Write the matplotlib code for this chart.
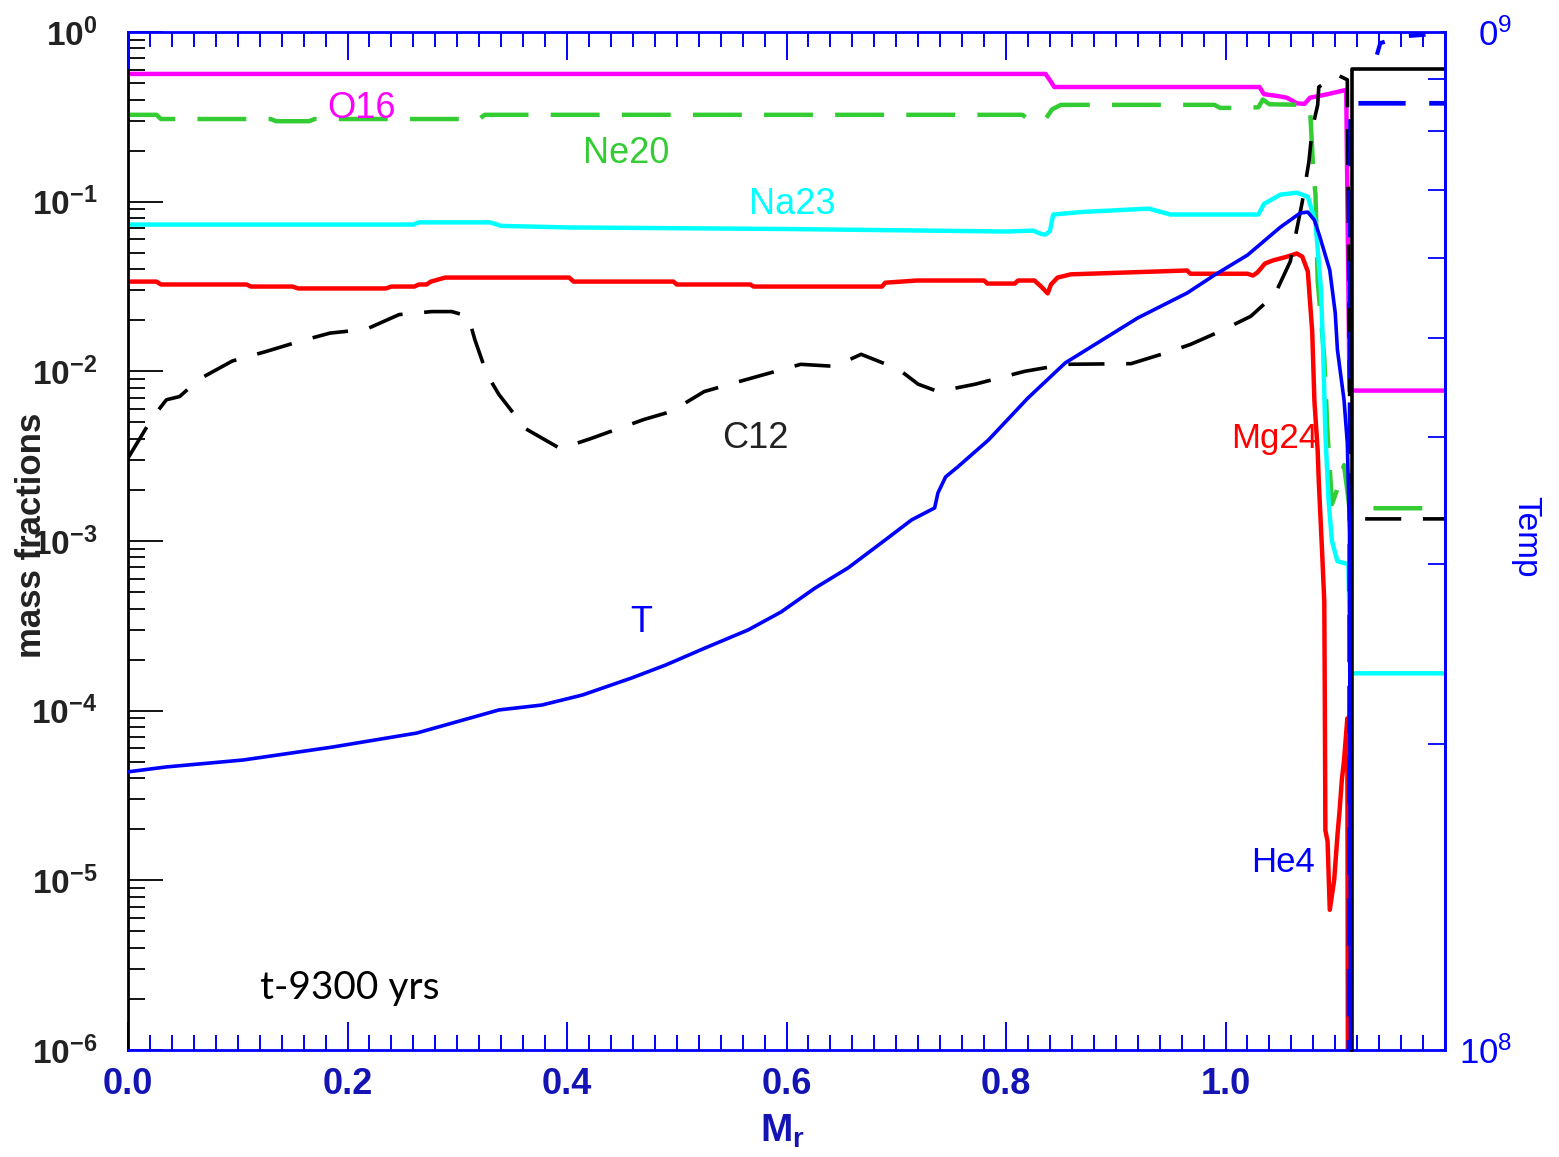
import matplotlib
matplotlib.use("Agg")
import matplotlib.pyplot as plt
from matplotlib.ticker import MultipleLocator, LogLocator, NullFormatter, FixedLocator

plt.rcParams['font.family'] = ['Liberation Sans', 'DejaVu Sans']
plt.rcParams['mathtext.default'] = 'regular'
plt.rcParams['axes.unicode_minus'] = False

# mass coordinate (Msun) and abundance profiles
o16_x = [0.0, 0.836, 0.840, 0.844, 1.031, 1.035, 1.047, 1.056, 1.065, 1.072, 1.077, 1.093, 1.110, 1.113, 1.2]
o16 = [0.566, 0.566, 0.52, 0.474, 0.474, 0.43, 0.42, 0.41, 0.38, 0.377, 0.41, 0.43, 0.456, 7.7e-3, 7.7e-3]

ne20_x = [0.0, 0.026, 0.03, 0.13, 0.135, 0.165, 0.17, 0.32, 0.325, 0.815, 0.82, 0.836, 0.842, 0.85,
          0.99, 0.995, 1.015, 1.03, 1.034, 1.04, 1.072, 1.077, 1.080, 1.082, 1.084, 1.090, 1.093,
          1.095, 1.097, 1.104, 1.108, 1.113, 1.2]
ne20 = [0.325, 0.325, 0.307, 0.307, 0.298, 0.298, 0.307, 0.307, 0.325, 0.325, 0.307, 0.307, 0.35, 0.372,
        0.372, 0.357, 0.357, 0.36, 0.40, 0.375, 0.372, 0.36, 0.15, 0.11, 0.034, 0.012, 4.3e-3,
        2.7e-3, 1.65e-3, 2.2e-3, 2.8e-3, 1.56e-3, 1.56e-3]

na23_x = [0.0, 0.26, 0.265, 0.33, 0.34, 0.40, 0.60, 0.80, 0.825, 0.832, 0.836, 0.84, 0.843, 0.87, 0.93,
          0.95, 1.03, 1.035, 1.05, 1.065, 1.075, 1.082, 1.085, 1.087, 1.089, 1.091, 1.094, 1.097,
          1.102, 1.112, 1.114, 1.2]
na23 = [0.0733, 0.0733, 0.0755, 0.0755, 0.072, 0.0705, 0.069, 0.0667, 0.0675, 0.0645, 0.064, 0.067, 0.084,
        0.087, 0.091, 0.084, 0.084, 0.097, 0.11, 0.113, 0.107, 0.0755, 0.044, 0.03, 0.013, 4.3e-3,
        1.7e-3, 1.0e-3, 7.6e-4, 7.3e-4, 1.66e-4, 1.66e-4]

mg24_x = [0.0, 0.026, 0.03, 0.108, 0.112, 0.15, 0.155, 0.235, 0.24, 0.261, 0.265, 0.272, 0.276, 0.289,
          0.402, 0.406, 0.497, 0.50, 0.567, 0.57, 0.687, 0.69, 0.719, 0.78, 0.783, 0.808, 0.811, 0.826,
          0.832, 0.838, 0.841, 0.847, 0.859, 0.965, 0.968, 1.02, 1.025, 1.029, 1.036, 1.043, 1.056,
          1.065, 1.07, 1.075, 1.077, 1.079, 1.081, 1.084, 1.085, 1.088, 1.09, 1.0905, 1.091, 1.093,
          1.095, 1.099, 1.102, 1.104, 1.106, 1.108, 1.111, 1.112]
mg24 = [0.0338, 0.0338, 0.0325, 0.0325, 0.0316, 0.0316, 0.0308, 0.0308, 0.0316, 0.0316, 0.0325, 0.0325,
        0.0338, 0.0357, 0.0357, 0.0338, 0.0338, 0.0325, 0.0325, 0.0316, 0.0316, 0.0333, 0.0343, 0.0343,
        0.0329, 0.0329, 0.0343, 0.0343, 0.0316, 0.0288, 0.0325, 0.0357, 0.0373, 0.0393, 0.0376, 0.0376,
        0.0367, 0.0382, 0.0432, 0.045, 0.0474, 0.0495, 0.0474, 0.0388, 0.0258, 0.0172, 6.7e-3, 3.4e-3,
        2.24e-3, 8.7e-4, 4.4e-4, 1.15e-4, 1.97e-5, 1.7e-5, 6.7e-6, 1e-5, 1.84e-5, 2.6e-5, 3.9e-5,
        5.1e-5, 9e-5, 1e-8]

c12_x = [0.0, 0.022, 0.035, 0.047, 0.065, 0.095, 0.126, 0.156, 0.184, 0.217, 0.247, 0.277, 0.295, 0.31,
         0.316, 0.327, 0.338, 0.362, 0.394, 0.421, 0.47, 0.495, 0.525, 0.554, 0.613, 0.644, 0.668, 0.702,
         0.72, 0.738, 0.772, 0.817, 0.854, 0.914, 0.945, 0.968, 0.995, 1.023, 1.045, 1.059, 1.065, 1.07,
         1.076, 1.079, 1.084, 1.085, 1.102, 1.111, 1.114, 1.2]
c12 = [3.08e-3, 5.3e-3, 6.8e-3, 7.1e-3, 9.0e-3, 0.0115, 0.0131, 0.015, 0.0168, 0.0177, 0.0216, 0.0225,
       0.0225, 0.0211, 0.0154, 0.0096, 0.0073, 0.0046, 0.0035, 0.004, 0.0052, 0.0058, 0.0076, 0.0086,
       0.011, 0.0107, 0.0126, 0.0103, 0.0084, 0.0076, 0.0084, 0.010, 0.011, 0.0111, 0.0128, 0.0144,
       0.0172, 0.0211, 0.0284, 0.0444, 0.069, 0.1, 0.172, 0.268, 0.372, 0.474, 0.558, 0.523, 1.35e-3,
       1.35e-3]

he4_x = [1.112, 1.114, 1.2]
he4 = [1e-8, 0.38, 0.38]

# temperature profile (K), right axis
t_x = [0.0, 0.035, 0.105, 0.186, 0.263, 0.338, 0.377, 0.414, 0.459, 0.49, 0.526, 0.565, 0.595, 0.626,
       0.656, 0.69, 0.714, 0.735, 0.738, 0.745, 0.756, 0.784, 0.82, 0.854, 0.92, 0.965, 0.99, 1.02,
       1.05, 1.068, 1.075, 1.081, 1.086, 1.095, 1.1, 1.102, 1.108, 1.111, 1.113, 1.114]
temp = [1.876e8, 1.897e8, 1.927e8, 1.984e8, 2.048e8, 2.158e8, 2.182e8, 2.232e8, 2.32e8, 2.389e8,
        2.483e8, 2.586e8, 2.693e8, 2.843e8, 2.975e8, 3.17e8, 3.317e8, 3.408e8, 3.526e8, 3.656e8,
        3.739e8, 3.974e8, 4.37e8, 4.731e8, 5.237e8, 5.541e8, 5.771e8, 6.037e8, 6.431e8, 6.639e8,
        6.654e8, 6.535e8, 6.29e8, 5.836e8, 5.296e8, 4.871e8, 4.35e8, 3.947e8, 3.22e8, 9e7]
t_env_x = [1.138, 1.141, 1.16, 1.2]
t_env = [9.5e8, 9.75e8, 9.9e8, 9.97e8]

# outer edge of the core and the box drawn around the envelope
edge_m = 1.115
box_top = 0.605

BLUE = '#0000ff'
LABEL_BLUE = '#1414b4'
DARK = '#222222'

fig = plt.figure(figsize=(15.59, 11.57), dpi=100)
ax = fig.add_axes([128 / 1559, 107 / 1157, 1317 / 1559, 1018 / 1157])
ax2 = ax.twinx()

ax.plot(o16_x, o16, color='#ff00ff', lw=3.2)
ax.plot(ne20_x, ne20, color='#33cc33', lw=3.2, dashes=(11, 5))
ax.plot(na23_x, na23, color='#00ffff', lw=3.2)
ax.plot(mg24_x, mg24, color='#ff0000', lw=3.2)
ax.plot(c12_x, c12, color='black', lw=2.6, dashes=(10, 6))
ax.plot(he4_x, he4, color=BLUE, lw=3.4, dashes=(10, 5))
ax.plot([edge_m, edge_m, 1.2], [1e-6, box_top, box_top], color='black', lw=2.6, clip_on=False, zorder=5)

ax2.plot(t_x, temp, color=BLUE, lw=2.6)
ax2.plot(t_env_x, t_env, color=BLUE, lw=3.0, dashes=(4, 6))

ax.set_xlim(0, 1.2)
ax.set_yscale('log')
ax.set_ylim(1e-6, 1)
ax2.set_yscale('log')
ax2.set_ylim(1e8, 1e9)

# x axis: blue ticks in and bold labels
ax.set_xticks([0.0, 0.2, 0.4, 0.6, 0.8, 1.0])
ax.set_xticklabels(['0.0', '0.2', '0.4', '0.6', '0.8', '1.0'], fontsize=26, fontweight='bold')
ax.xaxis.set_minor_locator(MultipleLocator(0.02))
ax.tick_params(axis='x', which='both', direction='in', top=True, color=BLUE,
               labelcolor=LABEL_BLUE, width=1.4, pad=12)
ax.tick_params(axis='x', which='major', length=20)
ax.tick_params(axis='x', which='minor', length=11)

# left axis: mass fractions
ax.yaxis.set_minor_locator(LogLocator(base=10, subs=range(2, 10), numticks=20))
ax.yaxis.set_minor_formatter(NullFormatter())
ax.tick_params(axis='y', which='both', direction='in', right=False, color='black',
               labelcolor=DARK, width=1.3, pad=22)
ax.tick_params(axis='y', which='major', length=25)
ax.tick_params(axis='y', which='minor', length=12)
for lab in ax.get_yticklabels():
    lab.set_fontsize(24)
    lab.set_fontweight('bold')

# right axis: temperature
ax2.yaxis.set_major_locator(FixedLocator([1e8, 1e9]))
ax2.set_yticklabels(['10$^8$', '\u20070$^9$'], fontsize=25, color=BLUE)
ax2.yaxis.set_minor_locator(LogLocator(base=10, subs=range(2, 10), numticks=20))
ax2.yaxis.set_minor_formatter(NullFormatter())
ax2.tick_params(axis='y', which='both', direction='in', color=BLUE, width=1.3, pad=10)
ax2.tick_params(axis='y', which='minor', length=12)

for name in ('top', 'bottom', 'right'):
    ax.spines[name].set_color(BLUE)
    ax.spines[name].set_linewidth(2)
ax.spines['left'].set_color('black')
ax.spines['left'].set_linewidth(2)
for name in ('top', 'bottom', 'left'):
    ax2.spines[name].set_visible(False)
ax2.spines['right'].set_color(BLUE)
ax2.spines['right'].set_linewidth(2)
ax.plot([0, 0], [1 - 0.034, 1], transform=ax.transAxes, color=BLUE, lw=2, clip_on=False, zorder=6)

ax.set_xlabel('M$_r$', fontsize=28, fontweight='bold', color=LABEL_BLUE)
ax.xaxis.set_label_coords(0.497, -0.062)
ax.set_ylabel('mass fractions', fontsize=25, fontweight='bold', color=DARK)
ax.yaxis.set_label_coords(-0.061, 0.506)
ax2.set_ylabel('Temp', fontsize=24, color=BLUE, rotation=270, va='center', ha='center')
ax2.yaxis.set_label_coords(1.061, 0.504)

lab_kw = dict(fontsize=26, ha='center', va='center')
ax.text(0.213, 0.352, 'O16', color='#ff00ff', **lab_kw)
ax.text(0.454, 0.191, 'Ne20', color='#33cc33', **lab_kw)
ax.text(0.605, 0.096, 'Na23', color='#00ffff', **lab_kw)
ax.text(0.572, 4.04e-3, 'C12', color=DARK, **lab_kw)
ax.text(0.468, 3.3e-4, 'T', color=BLUE, **lab_kw)
ax.text(1.045, 4.04e-3, 'Mg24', color='#ff0000', fontsize=25, ha='center', va='center')
ax.text(1.052, 1.28e-5, 'He4', color=BLUE, fontsize=25, ha='center', va='center')
ax.text(0.202, 2.32e-6, 't-9300 yrs', color='black', fontsize=28, family=['Lato', 'DejaVu Sans'],
        ha='center', va='center')

fig.savefig('out.png', dpi=100)
